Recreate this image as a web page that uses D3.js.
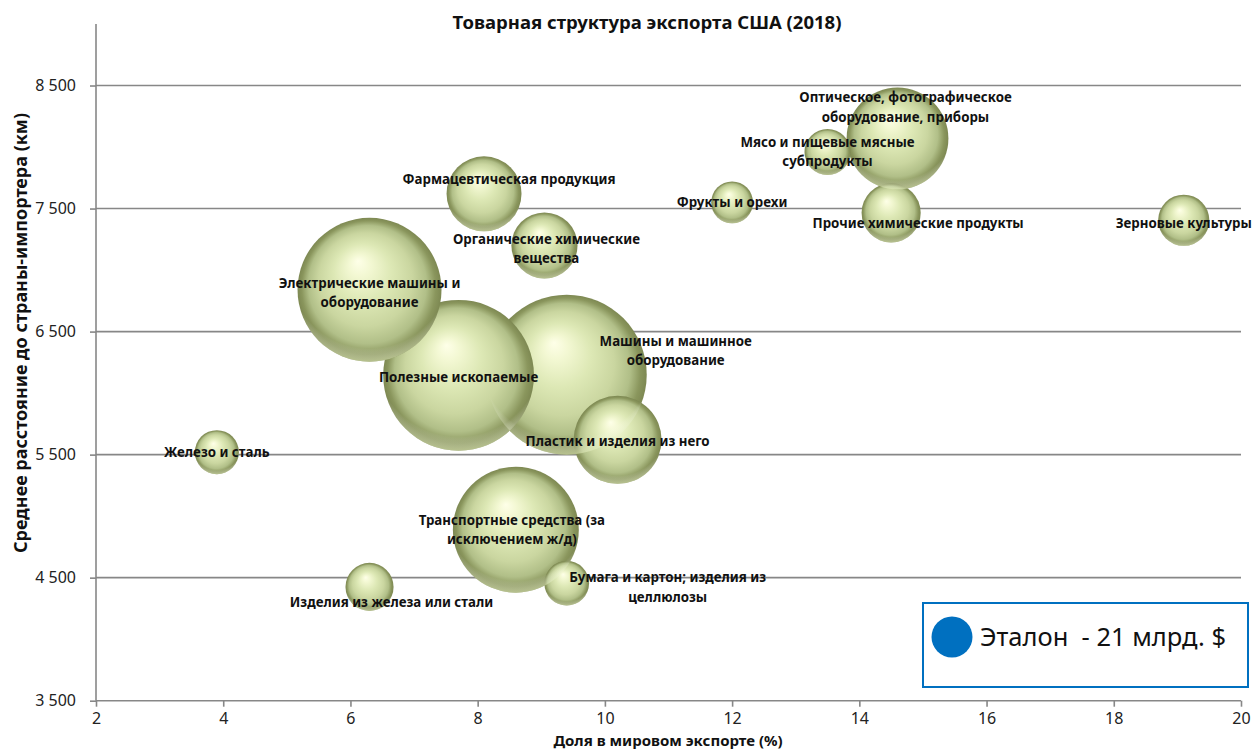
<!DOCTYPE html>
<html>
<head>
<meta charset="utf-8">
<script src="https://cdn.jsdelivr.net/npm/d3@7"></script>
<style>
  html, body { margin: 0; padding: 0; background: #fff; }
  svg { display: block; font-family: "Noto Sans", "Open Sans", sans-serif; }
</style>
</head>
<body>
<svg id="chart" width="1254" height="749"></svg>
<script>
// ---------- DATA ----------
const categories = [
  "Машины и машинное\nоборудование",
  "Полезные ископаемые",
  "Электрические машины и\nоборудование",
  "Транспортные средства (за\nисключением ж/д)",
  "Оптическое, фотографическое\nоборудование, приборы",
  "Пластик и изделия из него",
  "Фармацевтическая продукция",
  "Органические химические\nвещества",
  "Прочие химические продукты",
  "Зерновые культуры",
  "Изделия из железа или стали",
  "Мясо и пищевые мясные\nсубпродукты",
  "Бумага и картон; изделия из\nцеллюлозы",
  "Железо и сталь",
  "Фрукты и орехи"
];
// share of world exports, %
const shares = [9.4, 7.7, 6.3, 8.6, 14.6, 10.2, 8.1, 9.05, 14.5, 19.1, 6.3, 13.5, 9.4, 3.9, 12.0];
// average distance to importing country, km
const distances = [6150, 6145, 6840, 4890, 8070, 5620, 7620, 7200, 7465, 7405, 4425, 7960, 4455, 5520, 7550];
// export value, bn $
const exportValues = [205, 182, 166, 127, 83, 62, 45, 35, 28, 21, 18.5, 17, 16, 15.5, 14];

const xTicks = [2, 4, 6, 8, 10, 12, 14, 16, 18, 20];
const yTicks = [3500, 4500, 5500, 6500, 7500, 8500];

const titleText = "Товарная структура экспорта США (2018)";
const xTitleText = "Доля в мировом экспорте (%)";
const yTitleText = "Среднее расстояние до страны-импортера (км)";
const legendText = "Эталон  - 21 млрд. $";

// ---------- LAYOUT (pixel offsets of labels relative to bubble centre) ----------
const labelOffsets = [
  [109, -24], [0, 2], [0, 3], [-4, 0], [8, -31], [0, 1], [25, -15], [2, 3],
  [27, 10], [0, 3], [22, 15], [0, 0], [101, 4], [0, 0], [0, 0]
];

// ---------- CHART ----------
const svg = d3.select("#chart");
const plot = { left: 96, right: 1241, top: 24, bottom: 700.7 };

const x = d3.scaleLinear().domain([2, 20]).range([plot.left, plot.right]);
const y = d3.scaleLinear().domain([3500, 9000]).range([plot.bottom, plot.top]);
const r = d3.scaleSqrt().domain([0, 205]).range([0, 80]);

const defs = svg.append("defs");
const grad = defs.append("radialGradient")
  .attr("id", "sphere").attr("cx", "0.5").attr("cy", "0.5").attr("r", "0.5")
  .attr("fx", "0.42").attr("fy", "0.3");
[
  [0, "#feffe8"], [0.15, "#f3f8d3"], [0.4, "#dde8b5"], [0.65, "#cad6a0"],
  [0.82, "#b1bf88"], [0.93, "#8a965d"], [1, "#7d8852"]
].forEach(([o, c]) => grad.append("stop").attr("offset", o).attr("stop-color", c));

const rim = defs.append("radialGradient")
  .attr("id", "rim").attr("cx", "0.5").attr("cy", "0.35").attr("r", "0.68");
[
  [0, "rgba(255,255,255,0)"], [0.82, "rgba(255,255,255,0)"],
  [0.95, "rgba(228,238,190,0.55)"], [1, "rgba(228,238,190,0.75)"]
].forEach(([o, c]) => rim.append("stop").attr("offset", o).attr("stop-color", c));

// gridlines
svg.append("g").selectAll("line").data(yTicks.filter(t => t > 3500)).join("line")
  .attr("x1", plot.left).attr("x2", plot.right)
  .attr("y1", d => y(d)).attr("y2", d => y(d))
  .attr("stroke", "#878787").attr("stroke-width", 1.6);

// axes
const gx = svg.append("g").attr("transform", `translate(0,${plot.bottom})`)
  .call(d3.axisBottom(x).tickValues(xTicks).tickSize(6).tickPadding(6).tickFormat(d3.format("d")));
const gy = svg.append("g").attr("transform", `translate(${plot.left},0)`)
  .call(d3.axisLeft(y).tickValues(yTicks).tickSize(6).tickPadding(14)
    .tickFormat(d => d3.format(",")(d).replace(",", " ")));
[gx, gy].forEach(g => {
  g.select(".domain").attr("stroke", "#878787").attr("stroke-width", 1.6);
  g.selectAll(".tick line").attr("stroke", "#878787").attr("stroke-width", 1.6);
  g.selectAll(".tick text").attr("fill", "#222").attr("font-size", 16)
    .attr("font-family", "'Noto Sans', sans-serif");
});
gy.select(".domain").attr("d", `M0,${plot.bottom}V${plot.top}`);
gx.select(".domain").attr("d", `M${plot.left},0H${plot.right}`);

// bubbles
const data = categories.map((c, i) => ({
  name: c, share: shares[i], dist: distances[i], val: exportValues[i], off: labelOffsets[i]
}));

const bubbles = svg.append("g");
bubbles.selectAll("circle.body").data(data).join("circle").attr("class", "body")
  .attr("cx", d => x(d.share)).attr("cy", d => y(d.dist)).attr("r", d => r(d.val))
  .attr("fill", "url(#sphere)");
bubbles.selectAll("circle.rim").data(data).join("circle").attr("class", "rim")
  .attr("cx", d => x(d.share)).attr("cy", d => y(d.dist)).attr("r", d => r(d.val))
  .attr("fill", "url(#rim)");

// labels
const fs = 13.3, lh = 19.5;
const labels = svg.append("g").attr("font-weight", "bold").attr("font-size", fs)
  .attr("fill", "#111").attr("text-anchor", "middle");
data.forEach(d => {
  const lines = d.name.split("\n");
  const cx = x(d.share) + d.off[0];
  const cy = y(d.dist) + d.off[1];
  const t = labels.append("text");
  lines.forEach((ln, k) => {
    t.append("tspan").attr("x", cx)
      .attr("y", cy - (lines.length - 1) * lh / 2 + k * lh + fs * 0.36)
      .text(ln);
  });
});

// titles
svg.append("text").attr("x", 647).attr("y", 29).attr("text-anchor", "middle")
  .attr("font-weight", "bold").attr("font-size", 18.5).attr("fill", "#111").text(titleText);
svg.append("text").attr("x", 668).attr("y", 745.5).attr("text-anchor", "middle")
  .attr("font-weight", "bold").attr("font-size", 15).attr("fill", "#111").text(xTitleText);
svg.append("text").attr("transform", "translate(27,333) rotate(-90)").attr("text-anchor", "middle")
  .attr("font-weight", "bold").attr("font-size", 18).attr("fill", "#111").text(yTitleText);

// legend
const lg = svg.append("g");
lg.append("rect").attr("x", 923).attr("y", 603).attr("width", 325).attr("height", 84)
  .attr("fill", "#fff").attr("stroke", "#0070c0").attr("stroke-width", 2);
lg.append("circle").attr("cx", 952).attr("cy", 637).attr("r", 20.5).attr("fill", "#0070c0");
lg.append("text").attr("x", 980).attr("y", 646).attr("font-size", 25.5).attr("fill", "#111")
  .style("white-space", "pre").text(legendText);
</script>
</body>
</html>
